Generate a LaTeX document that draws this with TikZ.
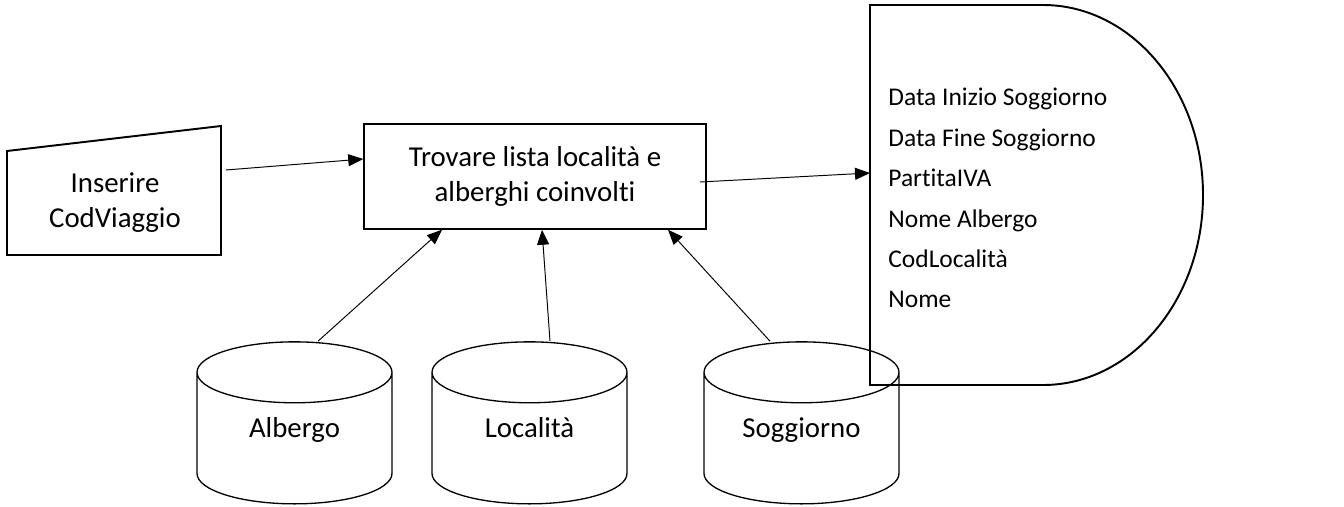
\documentclass[tikz,border=0pt]{standalone}
\usepackage{fontspec}
\setmainfont{Carlito}[Ligatures=NoCommon]
\usepackage{tikz}
\usetikzlibrary{arrows.meta}
\usetikzlibrary{shapes.geometric}
\pgfdeclarelayer{edgelayer}
\pgfdeclarelayer{nodelayer}
\pgfsetlayers{edgelayer,nodelayer,main}
\tikzset{
	blank/.style={inner sep=0pt, outer sep=0pt, minimum size=0pt},
	txt/.style={font=\fontsize{16.4}{20}\selectfont, align=center},
	task/.style={draw, line width=0.85pt, minimum width=6.84cm, minimum height=2.1cm, txt},
	store/.style={draw, cylinder, shape border rotate=90, aspect=0.43, line width=0.75pt, minimum width=3.9cm, minimum height=3.24cm, text width=2.6cm, text height=0.4cm, text depth=0.49cm, anchor=south},
	storename/.style={txt, text height=0.7em, text depth=0.22em},
	fields/.style={font=\fontsize{14.5}{23}\selectfont, align=left, anchor=north west, inner sep=0pt},
	sheet/.style={line width=1.1pt},
	flow/.style={line width=0.55pt, -{Triangle[length=0.3cm, width=0.24cm]}},
}
\begin{document}
\begin{tikzpicture}
	\useasboundingbox (0, 0) rectangle (26.88, 10.12);
	\begin{pgfonlayer}{nodelayer}
		\node [style=txt] (0) at (2.30, 6.07) {Inserire\\CodViaggio};
		\node [style=task] (1) at (10.70, 6.59) {Trovare lista località e\\alberghi coinvolti};
		\node [style=fields] (2) at (17.76, 8.36) {Data Inizio Soggiorno\\Data Fine Soggiorno\\PartitaIVA\\Nome Albergo\\CodLocalità\\Nome};
		\node [style=store] (3) at (5.89, 0.03) {};
		\node [style=store] (4) at (10.59, 0.03) {};
		\node [style=store] (5) at (16.03, 0.03) {};
		\node [style=storename] (9) at (5.89, 1.46) {Albergo};
		\node [style=storename] (10) at (10.59, 1.46) {Località};
		\node [style=storename] (11) at (16.03, 1.46) {Soggiorno};
		\node [style=blank] (6) at (4.52, 6.72) {};
		\node [style=blank] (7) at (14.00, 6.48) {};
		\node [style=blank] (8) at (17.40, 6.66) {};
	\end{pgfonlayer}
	\begin{pgfonlayer}{edgelayer}
		\draw [style=sheet] (0.14, 7.10) -- (4.42, 7.60) -- (4.42, 5.02) -- (0.14, 5.02) -- cycle;
		\draw [style=sheet] (17.40, 10.02) -- (20.86, 10.02) arc [start angle=90, end angle=-90, x radius=3.2, y radius=3.8] -- (17.40, 2.42) -- cycle;
		\draw [style=flow] (6.center) to ([yshift=0.35cm]1.west);
		\draw [style=flow] (7.center) to (8.center);
		\draw [style=flow] ([xshift=0.47cm]3.north) to ([xshift=-1.86cm]1.south);
		\draw [style=flow] ([xshift=0.41cm]4.north) to ([xshift=0.14cm]1.south);
		\draw [style=flow] ([xshift=-0.63cm]5.north) to ([xshift=2.66cm]1.south);
	\end{pgfonlayer}
\end{tikzpicture}
\end{document}
